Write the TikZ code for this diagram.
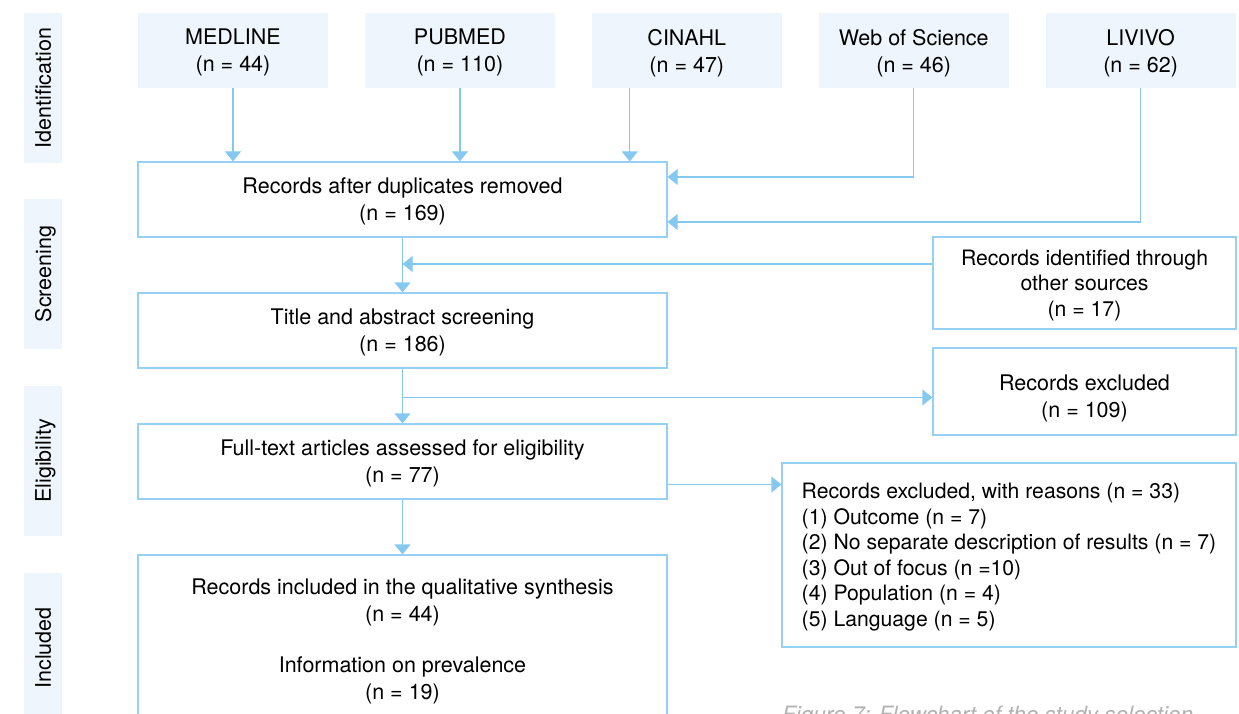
\documentclass[tikz,border=0pt]{standalone}
\usepackage{fontspec}
\setmainfont{TeX Gyre Heros}
\usetikzlibrary{arrows.meta,positioning,calc}
\definecolor{linecol}{HTML}{96D0F2}
\definecolor{arrcol}{HTML}{86C9F0}
\definecolor{fillcol}{HTML}{EEF5FC}
\definecolor{capcol}{HTML}{B2B2B2}

\begin{document}
\begin{tikzpicture}[x=1pt, y=-1pt,
  txt/.style   = {font=\fontsize{21.5}{27}\selectfont, text depth=0pt},
  list/.style  = {font=\fontsize{21.2}{25.5}\selectfont, text depth=0pt},
  src/.style   = {txt, fill=fillcol, minimum width=190pt, minimum height=75pt,
                  inner sep=0pt, align=center},
  box/.style   = {txt, draw=linecol, line width=1.2pt, inner sep=0pt, align=center},
  main/.style  = {box, minimum width=529pt, minimum height=75pt},
  side/.style  = {box, minimum width=303pt},
  phase/.style = {txt, fill=fillcol, rotate=90, minimum width=150pt,
                  minimum height=38pt, inner sep=0pt},
  figcap/.style = {font=\fontsize{22.5}{26}\selectfont\itshape, text=capcol, inner sep=0pt},
  arr/.style   = {-{Triangle[length=10pt,width=16pt]}, line width=1.2pt, arrcol}]
\useasboundingbox (0,0) rectangle (1239,714);

% phases
\node[phase] (ident) at (43,88)  {Identification};
\node[phase] (scr)   at (43,274) {Screening};
\node[phase] (elig)  at (43,461) {Eligibility};
\node[phase] (inc)   at (43,648) {Included};

% databases
\node[src] (medline) at (233,50.5) {MEDLINE\\(n = 44)};
\node[src, right=36.5pt of medline] (pubmed) {PUBMED\\(n = 110)};
\node[src, right=36.5pt of pubmed] (cinahl) {CINAHL\\(n = 47)};
\node[src, right=36.5pt of cinahl] (wos) {Web of Science\\(n = 46)};
\node[src, right=36.5pt of wos] (livivo) {LIVIVO\\(n = 62)};

% main column
\node[main] (dup) at (402.5,199.5) {Records after duplicates removed\\(n = 169)};
\node[main, below=54.8pt of dup] (title) {Title and abstract screening\\(n = 186)};
\node[main, below=54.8pt of title] (full) {Full-text articles assessed for eligibility\\(n = 77)};
\node[main, below=54.8pt of full, minimum height=167.5pt] (incl)
  {Records included in the qualitative synthesis\\(n = 44)\\[24pt]
   Information on prevalence\\(n = 19)};

% side boxes
\node[side, list, minimum height=92pt] (other) at (1084.5,283)
  {Records identified through\\other sources\\(n = 17)};
\node[side, minimum height=87pt, text height=52pt] (excl) at (1084.5,391.5)
  {Records excluded\\(n = 109)};
\node[box, list, minimum width=454pt, minimum height=184pt, align=left] (reasons)
  at (1009,555)
  {Records excluded, with reasons (n = 33)\\(1) Outcome (n = 7)\\
   (2) No separate description of results (n = 7)\\(3) Out of focus (n =10)\\
   (4) Population (n = 4)\\(5) Language (n = 5)};

\node[figcap, anchor=base west] (fig) at (782,722) {Figure 7: Flowchart of the study selection};

% connectors
\coordinate (cin) at ([xshift=-57pt]cinahl.south);
\coordinate (oin) at ([yshift=19pt]other.west);
\coordinate (exin) at ([yshift=-6pt]excl.west);
\coordinate (rin) at ([yshift=-23pt]full.east);

\draw[arr] (medline) -- (medline |- dup.north);
\draw[arr] (pubmed) -- (pubmed |- dup.north);
\draw[arr] (cin) -- (cin |- dup.north);
\draw[arr] (wos.south) |- ([yshift=22.5pt]dup.east);
\draw[arr] (livivo.south) |- ([yshift=-22.5pt]dup.east);
\draw[arr] (dup) -- (title);
\draw[arr] (oin) -- (oin -| dup.south);
\draw[arr] (title) -- (full);
\draw[arr] (exin -| title.south) -- (exin);
\draw[arr] (rin) -- (rin -| reasons.west);
\draw[arr] (full) -- (incl);
\end{tikzpicture}
\end{document}
